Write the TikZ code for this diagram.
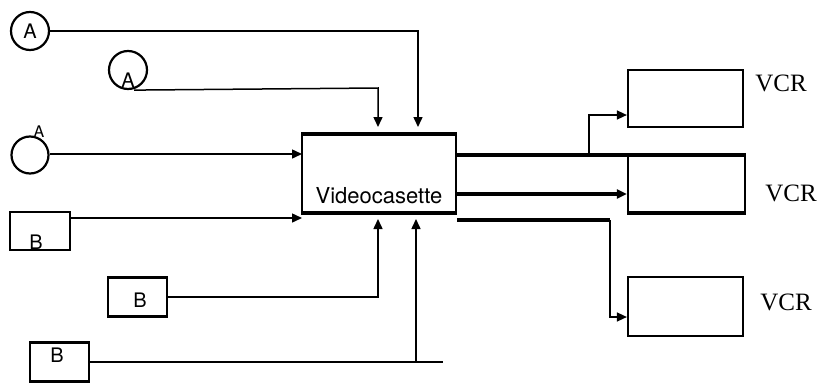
\documentclass[tikz,border=0pt]{standalone}
\usepackage{fontspec}
\setmainfont{Liberation Serif}
\newfontfamily\hel{TeX Gyre Heros}
\usetikzlibrary{arrows.meta}
\begin{document}
\begin{tikzpicture}[x=1pt,y=-1pt,
  thinl/.style={line width=1.5pt},
  thickl/.style={line width=3.5pt},
  arr/.style={-{Triangle[length=10pt,width=9pt]}},
  circ/.style={draw,line width=2.2pt,circle,minimum size=38pt,inner sep=0pt},
  sbox/.style={draw,line width=2.2pt,rectangle,inner sep=0pt},
  lbl/.style={font=\hel\fontsize{20}{20}\selectfont,inner sep=0pt},
  vcrlbl/.style={font=\fontsize{25}{25}\selectfont,inner sep=0pt}]
\useasboundingbox (0,0) rectangle (820,383);
% sources A
\node[circ] (a1) at (30,31) {};
\node[lbl] at (30,31) {A};
\node[circ] (a2) at (128,70) {};
\node[lbl] at (128,80) {A};
\node[circ,minimum size=37pt] (a3) at (30,155) {};
\node[lbl,font=\hel\fontsize{16}{16}\selectfont] at (39,132) {A};
% sources B
\node[sbox,minimum width=60pt,minimum height=38pt] (b1) at (40,231) {};
\node[lbl,font=\hel\fontsize{20}{20}\selectfont] at (36,242) {B};
\node[sbox,minimum width=59pt,minimum height=39pt] (b2) at (137.5,297) {};
\node[lbl,font=\hel\fontsize{20}{20}\selectfont] at (140,300) {B};
\node[sbox,minimum width=59pt,minimum height=39pt] (b3) at (59.5,362) {};
\node[lbl,font=\hel\fontsize{20}{20}\selectfont] at (57,355) {B};
% main box
\node[draw,line width=2pt,rectangle,minimum width=154pt,minimum height=77pt,inner sep=0pt] (vc) at (379,173.5) {};
\draw[thickl] (vc.north west) -- (vc.north east);
\draw[thickl] (vc.south west) -- (vc.south east);
\node[font=\hel\fontsize{22}{22}\selectfont,inner sep=0pt] (vctext) at (379,196) {Videocasette};
% VCR boxes
\node[sbox,minimum width=115pt,minimum height=57pt] (v1) at (685.5,98.5) {};
\node[sbox,minimum width=117pt,minimum height=56pt] (v2) at (686.5,184) {};
\draw[thickl] (v2.north west) -- (v2.north east);
\draw[thickl] (v2.south west) -- (v2.south east);
\node[sbox,minimum width=115pt,minimum height=59pt] (v3) at (685.5,306.5) {};
\node[vcrlbl] (l1) at (781,83) {VCR};
\node[vcrlbl] (l2) at (791,193) {VCR};
\node[vcrlbl] (l3) at (786,302) {VCR};
% coordinates
\coordinate (t1) at (418,127);
\coordinate (t2) at (378,127);
\coordinate (u1) at (378,219);
\coordinate (u2) at (416,219);
\coordinate (e3) at (443,362);
\coordinate (lA) at (302,154);
\coordinate (lB) at (302,218);
% inputs
\draw[thinl,arr] (a1.east) -| (t1);
\draw[thinl,arr] ([xshift=6pt]a2.south) -- (378,88) -- (t2);
\draw[thinl,arr] (a3.east |- lA) -- (lA);
\draw[thinl,arr] (b1.east |- lB) -- (lB);
\draw[thinl,arr] (b2.east) -| (u1);
\draw[thinl] (b3.east) -- (e3);
\draw[thinl,arr] (416,362) -- (u2);
% outputs
\draw[thickl] (vc.north east |- v2.north) -- (v2.north west);
\draw[thinl,arr] (589,156) |- ([yshift=1pt]v1.west |- 0,116);
\draw[thickl,arr] (vc.east |- 0,194) -- (v2.west |- 0,194);
\draw[thickl] (457,220) -- (610,220);
\draw[thinl,arr] (610,220) |- (v3.west |- 0,317);
\end{tikzpicture}
\end{document}
